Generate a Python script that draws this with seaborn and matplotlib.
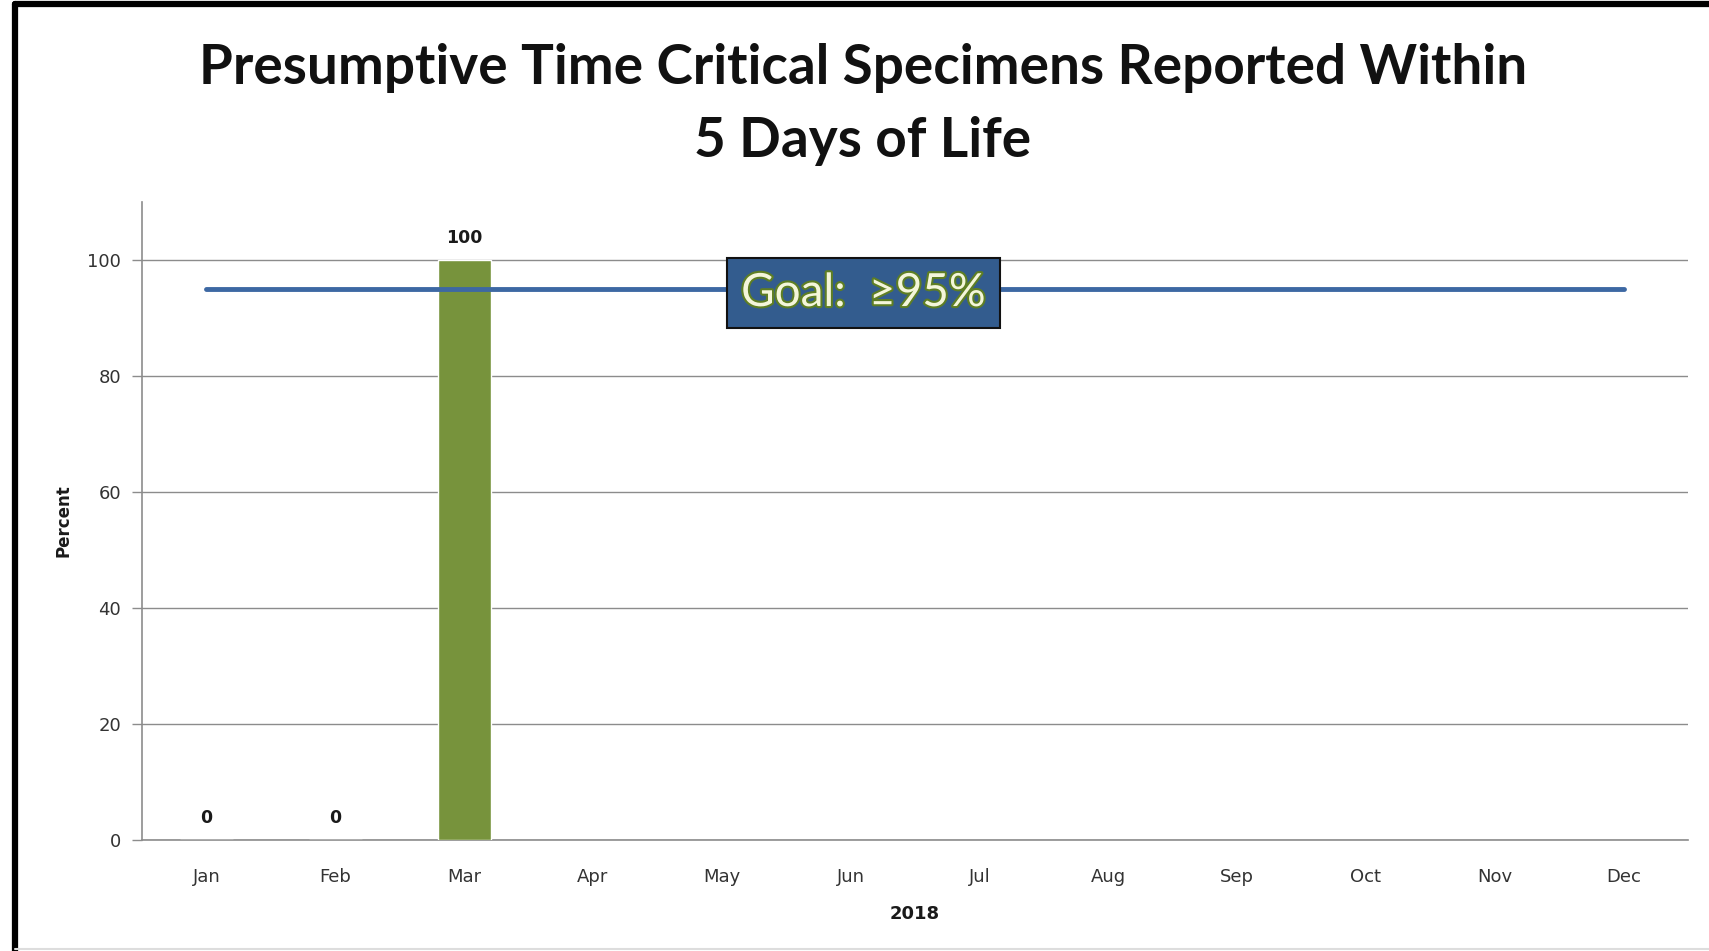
import numpy as np
import pandas as pd
import matplotlib
matplotlib.use('Agg')
import matplotlib.pyplot as plt
import matplotlib.patheffects as pe
from matplotlib.lines import Line2D
import seaborn as sns

months = ['Jan', 'Feb', 'Mar', 'Apr', 'May', 'Jun', 'Jul', 'Aug', 'Sep', 'Oct', 'Nov', 'Dec']
percent = [0, 0, 100, np.nan, np.nan, np.nan, np.nan, np.nan, np.nan, np.nan, np.nan, np.nan]
goal = [95] * 12
year_label = '2018'

sns.set_style('white')
plt.rcParams['font.family'] = ['DejaVu Sans']

df = pd.DataFrame({'month': months, 'percent': percent})

fig = plt.figure(figsize=(17.09, 9.51), dpi=100)
ax = fig.add_axes([0.0831, 0.1167, 0.9046, 0.6709])

sns.barplot(data=df, x='month', y='percent', order=months, color='#77933C',
            saturation=1, width=0.41, ax=ax, zorder=3)
ax.plot(range(len(months)), goal, color='#3D68A3', lw=3.5, zorder=4)

# data labels
for i, v in enumerate(percent):
    if not np.isnan(v):
        ax.text(i, v + 2.2, f'{v:.0f}', ha='center', va='bottom',
                fontsize=12.5, fontweight='bold', color='#1a1a1a')

ax.set_ylim(0, 110)
ax.set_xlim(-0.5, 11.5)
ax.set_yticks([0, 20, 40, 60, 80, 100])
ax.yaxis.grid(True, color='#8c8c8c', lw=1)
ax.set_axisbelow(True)
ax.set_xticks(range(len(months)))
ax.set_xticklabels(months)
ax.set_xticks(np.arange(-0.5, 12, 1), minor=True)
ax.tick_params(axis='x', which='major', length=0, pad=20, labelsize=13, labelcolor='#333333')
ax.tick_params(axis='x', which='minor', length=6, color='#8c8c8c', width=1, direction='out')
ax.tick_params(axis='y', length=7, color='#8c8c8c', width=1, pad=8, labelsize=13,
               labelcolor='#333333', left=True, direction='out')
for s in ['top', 'right']:
    ax.spines[s].set_visible(False)
for s in ['left', 'bottom']:
    ax.spines[s].set_color('#8c8c8c')
    ax.spines[s].set_linewidth(1.2)

ax.set_xlabel(year_label, fontsize=13, fontweight='bold', labelpad=14, color='#1a1a1a')
ax.set_ylabel('Percent', fontsize=12, fontweight='bold', labelpad=11, color='#1a1a1a')

# goal box
ax.text(5.1, 94.3, 'Goal:  ≥95%', ha='center', va='center', fontsize=33,
        family='Lato', color='#F4F6DA', zorder=6,
        path_effects=[pe.withStroke(linewidth=3, foreground='#5E7E24')],
        bbox=dict(boxstyle='square,pad=0.3', facecolor='#335C8E', edgecolor='#111111', lw=1.5))

fig.text(0.505, 0.89, 'Presumptive Time Critical Specimens Reported Within\n5 Days of Life',
         ha='center', va='center', fontsize=39.5, fontweight='bold', family='Lato',
         linespacing=1.58, color='#111111')

# outer frame
fig.add_artist(Line2D([0.0085, 0.0085], [0, 0.996], color='black', lw=4.5))
fig.add_artist(Line2D([0.0085, 1], [0.996, 0.996], color='black', lw=4.5))
fig.add_artist(Line2D([0.0085, 1], [0.002, 0.002], color='#dddddd', lw=1.5))

fig.savefig('out.png', dpi=100)
